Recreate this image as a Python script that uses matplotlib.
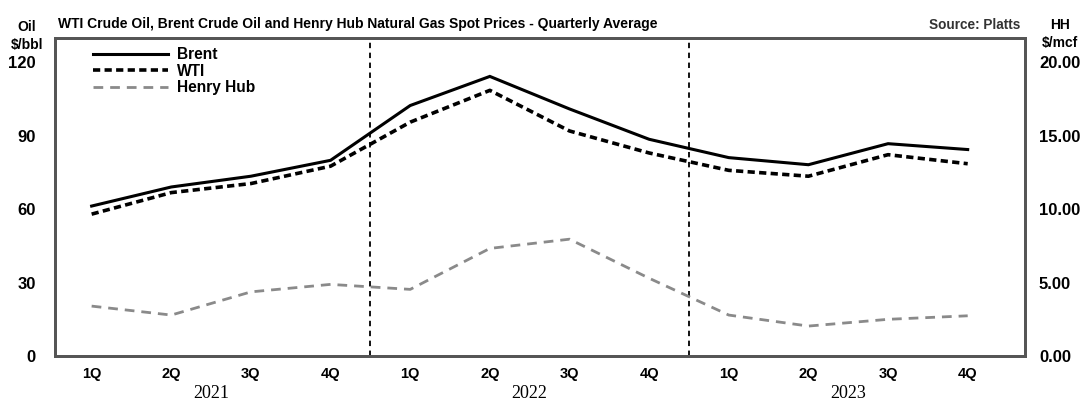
import numpy as np
import matplotlib
matplotlib.use('Agg')
import matplotlib.pyplot as plt
from matplotlib.lines import Line2D

quarters = ['1Q', '2Q', '3Q', '4Q'] * 3
years = ['2021', '2022', '2023']
brent = [61.3, 69.1, 73.5, 80.0, 102.4, 114.3, 101.0, 88.6, 81.1, 78.2, 86.8, 84.4]
wti = [58.0, 66.8, 70.5, 77.6, 95.6, 108.6, 92.0, 83.0, 75.9, 73.5, 82.3, 78.6]
henry_hub = [3.40, 2.79, 4.37, 4.88, 4.54, 7.33, 7.96, 5.30, 2.79, 2.04, 2.50, 2.74]
oil_ticks = [0, 30, 60, 90, 120]
hh_ticks = [0, 5, 10, 15, 20]

plt.rcParams['font.family'] = ['Liberation Sans', 'DejaVu Sans']
plt.rcParams['font.weight'] = 'bold'

fig = plt.figure(figsize=(10.87, 4.03), dpi=100)
ax = fig.add_axes([0.0506, 0.1166, 0.8924, 0.7891])
ax2 = ax.twinx()

x = np.arange(len(quarters))
frame_col = '#555555'

ax.plot(x, brent, color='black', lw=2.2, solid_joinstyle='miter')
ax.plot(x, wti, color='black', lw=2.6, dashes=(2.0, 1.2))
ax2.plot(x, henry_hub, color='#8a8a8a', lw=2.0, dashes=(3.5, 2.5))

for xv in [3.5, 7.5]:
    ax.axvline(xv, color='black', lw=1.3, dashes=(3, 2.5))

ax.set_xlim(-0.46, 11.72)
ax.set_ylim(0, 130)
ax2.set_ylim(0, 130 / 6)

ax.set_yticks(oil_ticks)
ax.set_yticklabels([str(t) for t in oil_ticks], fontsize=12, fontweight='bold')
ax2.set_yticks(hh_ticks)
ax2.set_yticklabels(['%.2f' % t for t in hh_ticks], fontsize=12, fontweight='bold')
ax.set_xticks(x)
ax.set_xticklabels(quarters, fontsize=10.5, fontweight='bold')
ax.tick_params(axis='x', length=0, pad=8)
ax.tick_params(axis='y', length=0, pad=14)
ax2.tick_params(axis='y', length=0, pad=10)

for a in (ax, ax2):
    for s in a.spines.values():
        s.set_color(frame_col)
        s.set_linewidth(2)

for i, yr in enumerate(years):
    ax.text(4 * i + 1.5, -0.118, yr, transform=ax.get_xaxis_transform(),
            ha='center', va='center', fontsize=13, fontweight='normal',
            family='Liberation Serif')

# header texts
fig.text(58 / 1087, 1 - 24 / 403, 'WTI Crude Oil, Brent Crude Oil and Henry Hub Natural Gas Spot Prices - Quarterly Average',
         ha='left', va='center', fontsize=10, fontweight='bold')
fig.text(1020 / 1087, 1 - 25 / 403, 'Source: Platts', ha='right', va='center',
         fontsize=9.8, fontweight='bold', color='#333333')
fig.text(27 / 1087, 1 - 27 / 403, 'Oil', ha='center', va='center', fontsize=10, fontweight='bold')
fig.text(27 / 1087, 1 - 45 / 403, '$/bbl', ha='center', va='center', fontsize=10, fontweight='bold')
fig.text(1060 / 1087, 1 - 25 / 403, 'HH', ha='center', va='center', fontsize=10, fontweight='bold')
fig.text(1060 / 1087, 1 - 43 / 403, '$/mcf', ha='center', va='center', fontsize=10, fontweight='bold')

handles = [
    Line2D([], [], color='black', lw=2.2),
    Line2D([], [], color='black', lw=2.6, dashes=(2.0, 1.2)),
    Line2D([], [], color='#8a8a8a', lw=2.0, dashes=(3.5, 2.5)),
]
leg = ax.legend(handles, ['Brent', 'WTI', 'Henry Hub'], loc='upper left',
                bbox_to_anchor=(0.025, 1.015), frameon=False, handlelength=4.8,
                handletextpad=0.6, labelspacing=0.1,
                prop={'size': 11.2, 'weight': 'bold'})

fig.savefig('out.png', dpi=100)
